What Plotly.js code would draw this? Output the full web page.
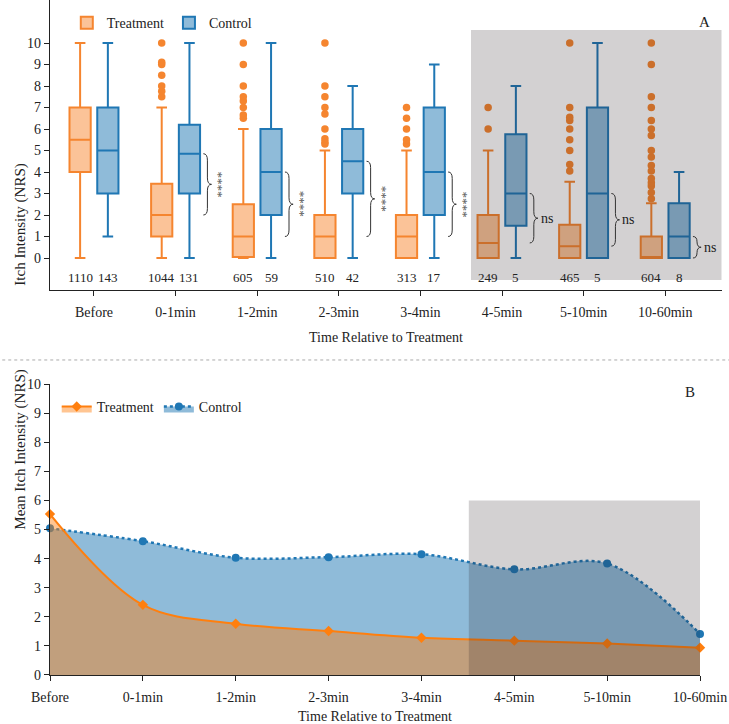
<!DOCTYPE html>
<html>
<head>
<meta charset="utf-8">
<script src="https://cdn.plot.ly/plotly-3.0.1.min.js"></script>
<style>body{margin:0}#chart{width:729px;height:724px}</style>
</head>
<body>
<div id="chart"></div>
<script>
let categories = ['Before', '0-1min', '1-2min', '2-3min', '3-4min', '4-5min', '5-10min', '10-60min'];

// panel A: box statistics
let treatLower = [0, 0, 0, 0, 0, 0, 0, 0];
let treatQ1 = [4, 1, 0.05, 0, 0, 0, 0, 0];
let treatMedian = [5.5, 2, 1, 1, 1, 0.7, 0.55, 0];
let treatQ3 = [7, 3.45, 2.5, 2, 2, 2, 1.55, 1];
let treatUpper = [10, 7, 6, 5, 5, 5, 3.55, 2.55];
let treatOutliers = [
    [],
    [7.5, 7.75, 8, 8.5, 9, 9.1, 10],
    [6.5, 6.65, 7, 7.3, 7.5, 8, 9, 10],
    [5.3, 5.4, 5.55, 6, 6.7, 7, 7.5, 8, 10],
    [5.3, 5.5, 6, 6.5, 7],
    [6, 7],
    [4.05, 4.35, 5, 5.5, 6, 6.4, 6.55, 7, 10],
    [2.75, 3.05, 3.35, 3.5, 3.7, 4.05, 4.3, 4.7, 5, 5.7, 6, 6.4, 7, 7.5, 9, 10]
];

let ctrlLower = [1, 0, 0, 0, 0, 0, 0, 0];
let ctrlQ1 = [3, 3, 2, 3, 2, 1.5, 0, 0];
let ctrlMedian = [5, 4.85, 4, 4.5, 4, 3, 3, 1];
let ctrlQ3 = [7, 6.2, 6, 6, 7, 5.75, 7, 2.55];
let ctrlUpper = [10, 10, 10, 8, 9, 8, 10, 4];

let treatN = [1110, 1044, 605, 510, 313, 249, 465, 604];
let ctrlN = [143, 131, 59, 42, 17, 5, 5, 8];
let sigLabels = ['', '****', '****', '****', '****', 'ns', 'ns', 'ns'];

// panel B: means
let treatMean = [5.53, 2.41, 1.76, 1.51, 1.28, 1.18, 1.08, 0.94];
let ctrlMean = [5.04, 4.6, 4.03, 4.05, 4.15, 3.63, 3.83, 1.41];

const font = 'Liberation Serif, Times New Roman, serif';
const ink = '#222';
const orange = '#f5852f';
const blue = '#1f77b4';
const off = 0.17;

let pos = categories.map((c, i) => i);

function boxTrace(name, shift, lf, q1, med, q3, uf, line, fill) {
    return {
        type: 'box', name: name, orientation: 'v',
        x: pos.map(p => p + shift),
        q1: q1, median: med, q3: q3, lowerfence: lf, upperfence: uf,
        boxpoints: false,
        width: 0.26, whiskerwidth: 0.5,
        line: { color: line, width: 2 },
        fillcolor: fill,
        xaxis: 'x', yaxis: 'y', legend: 'legend',
        hoverinfo: 'skip'
    };
}

// flatten outliers into one scatter so they sit on the treatment boxes
let outX = [], outY = [];
treatOutliers.forEach((vals, i) => vals.forEach(v => { outX.push(i - off); outY.push(v); }));

let data = [
    boxTrace('Treatment', -off, treatLower, treatQ1, treatMedian, treatQ3, treatUpper,
        orange, 'rgba(247,135,50,0.5)'),
    boxTrace('Control', off, ctrlLower, ctrlQ1, ctrlMedian, ctrlQ3, ctrlUpper,
        blue, 'rgba(31,119,180,0.5)'),
    {
        type: 'scatter', mode: 'markers', x: outX, y: outY, xaxis: 'x', yaxis: 'y',
        marker: { color: orange, size: 7.5 }, showlegend: false, hoverinfo: 'skip'
    },
    {
        type: 'scatter', mode: 'lines+markers', name: 'Control',
        x: pos, y: ctrlMean, xaxis: 'x2', yaxis: 'y2', legend: 'legend2', legendrank: 2,
        line: { shape: 'spline', dash: 'dot', width: 2.5, color: blue },
        marker: { symbol: 'circle', size: 8, color: blue },
        fill: 'tozeroy', fillcolor: 'rgba(31,119,180,0.5)', cliponaxis: false
    },
    {
        type: 'scatter', mode: 'lines+markers', name: 'Treatment',
        x: pos, y: treatMean, xaxis: 'x2', yaxis: 'y2', legend: 'legend2', legendrank: 1,
        line: { shape: 'spline', width: 2, color: '#ff7f0e' },
        marker: { symbol: 'diamond', size: 8, color: '#ff7f0e' },
        fill: 'tozeroy', fillcolor: 'rgba(255,127,14,0.45)', cliponaxis: false
    }
];

let shapes = [
    { type: 'rect', xref: 'x', yref: 'y', x0: 4.62, x1: 7.69, y0: -1.02, y1: 10.6,
      fillcolor: 'rgba(35,25,30,0.2)', line: { width: 0 }, layer: 'above' },
    { type: 'rect', xref: 'x2', yref: 'y2', x0: 4.51, x1: 7, y0: 0, y1: 6,
      fillcolor: 'rgba(35,25,30,0.2)', line: { width: 0 }, layer: 'above' },
    { type: 'line', xref: 'paper', yref: 'paper', x0: -0.08, x1: 1.02, y0: 0.5028, y1: 0.5028,
      line: { color: '#aaa', width: 1, dash: 'dot' } }
];

let annotations = [];
pos.forEach(i => {
    annotations.push({ x: i - off, y: -0.93, xref: 'x', yref: 'y', text: String(treatN[i]),
        showarrow: false, font: { size: 13 } });
    annotations.push({ x: i + off, y: -0.93, xref: 'x', yref: 'y', text: String(ctrlN[i]),
        showarrow: false, font: { size: 13 } });
    if (!sigLabels[i]) return;
    // curly brace between the two medians
    let yt = ctrlMedian[i], yb = treatMedian[i], ym = (yt + yb) / 2;
    let d = Math.min(0.3, (yt - yb) / 4);
    let x0 = i + 0.34, xm = i + 0.39, xt = i + 0.44;
    shapes.push({
        type: 'path', xref: 'x', yref: 'y', line: { color: '#333', width: 1 },
        path: `M ${x0},${yt} Q ${xm},${yt} ${xm},${yt - d} L ${xm},${ym + d} Q ${xm},${ym} ${xt},${ym} ` +
              `Q ${xm},${ym} ${xm},${ym - d} L ${xm},${yb + d} Q ${xm},${yb} ${x0},${yb}`
    });
    if (sigLabels[i] === 'ns') {
        annotations.push({ x: i + 0.45, y: ym, xref: 'x', yref: 'y', xanchor: 'left', text: 'ns',
            showarrow: false, font: { size: 14 } });
    } else {
        annotations.push({ x: i + 0.53, y: ym, xref: 'x', yref: 'y', text: sigLabels[i], textangle: 90,
            showarrow: false, font: { size: 13, color: '#555' } });
    }
});
annotations.push({ x: 0.985, y: 0.983, xref: 'paper', yref: 'paper', text: 'A', showarrow: false, font: { size: 15 } });
annotations.push({ x: 0.963, y: 0.4586, xref: 'paper', yref: 'paper', text: 'B', showarrow: false, font: { size: 15 } });
// y titles placed by hand, the reference has them off the axis centre
annotations.push({ x: -0.0595, y: 0.776, xref: 'paper', yref: 'paper', text: 'Itch Intensity (NRS)',
    textangle: -90, showarrow: false, font: { size: 15 } });
annotations.push({ x: -0.0595, y: 0.265, xref: 'paper', yref: 'paper', text: 'Mean Itch Intensity (NRS)',
    textangle: -90, showarrow: false, font: { size: 15 } });

let axisBase = {
    showline: true, linecolor: ink, linewidth: 1.2, ticks: 'outside', ticklen: 5, tickcolor: ink,
    showgrid: false, zeroline: false, tickfont: { size: 14 }
};

let layout = {
    width: 729, height: 724,
    margin: { l: 50, r: 7, t: 0, b: 0 },
    paper_bgcolor: 'white', plot_bgcolor: 'white',
    font: { family: font, color: ink, size: 14 },
    boxmode: 'overlay',
    xaxis: Object.assign({}, axisBase, {
        domain: [0, 1], anchor: 'y', range: [-0.539, 7.696],
        tickvals: pos, ticktext: categories, ticklabelstandoff: 4,
        title: { text: 'Time Relative to Treatment', font: { size: 14 }, standoff: 13 }
    }),
    yaxis: Object.assign({}, axisBase, {
        domain: [0.5994, 1], anchor: 'x', range: [-1.49, 12],
        tickvals: [0, 1, 2, 3, 4, 5, 6, 7, 8, 9, 10]
    }),
    xaxis2: Object.assign({}, axisBase, {
        domain: [0, 0.9673], anchor: 'y2', range: [0, 7],
        tickvals: pos, ticktext: categories, ticklabelstandoff: 4,
        title: { text: 'Time Relative to Treatment', font: { size: 14 }, standoff: 8 }
    }),
    yaxis2: Object.assign({}, axisBase, {
        domain: [0.0677, 0.4696], anchor: 'x2', range: [0, 10],
        tickvals: [0, 1, 2, 3, 4, 5, 6, 7, 8, 9, 10]
    }),
    legend: { orientation: 'h', x: 0.025, y: 0.99, yanchor: 'top', font: { size: 14 }, bgcolor: 'rgba(0,0,0,0)' },
    legend2: { orientation: 'h', x: 0.01, y: 0.46, yanchor: 'top', font: { size: 14 }, bgcolor: 'rgba(0,0,0,0)' },
    shapes: shapes,
    annotations: annotations
};

Plotly.newPlot('chart', data, layout, { displayModeBar: false, staticPlot: true });
</script>
</body>
</html>
